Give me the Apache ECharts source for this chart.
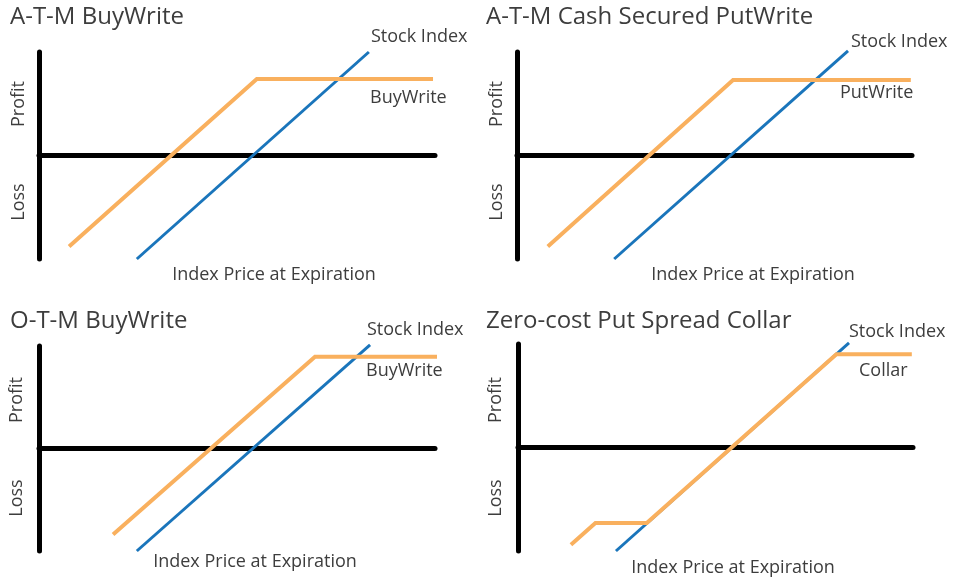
<!DOCTYPE html>
<html>
<head>
<meta charset="utf-8">
<script src="https://cdn.jsdelivr.net/npm/echarts@6/dist/echarts.min.js"></script>
<style>
  html, body { margin: 0; padding: 0; background: #fff; }
  #chart { width: 965px; height: 580px; }
</style>
</head>
<body>
<div id="chart"></div>
<script>
// panel titles
const titles = ['A-T-M BuyWrite', 'A-T-M Cash Secured PutWrite', 'O-T-M BuyWrite', 'Zero-cost Put Spread Collar'];
const strategyNames = ['BuyWrite', 'PutWrite', 'BuyWrite', 'Collar'];

// payoff diagrams: [index price, profit] (x 0..100, y -50..50)
const stockIndex1 = [[24.7, -50], [83.3, 50]];
const buyWriteAtm = [[7.6, -44], [55, 37], [99.5, 37]];
const stockIndex2 = [[24.6, -50], [83.8, 50.5]];
const putWriteAtm = [[7.8, -44], [54.7, 36.5], [99.7, 36.5]];
const stockIndex3 = [[24.7, -50], [83.6, 50.5]];
const buyWriteOtm = [[18.7, -42], [69.7, 44.7], [102.3, 44.7]];
const stockIndex4 = [[24.8, -50], [83.8, 50.5]];
const collar = [[13.4, -47], [19.6, -36.5], [32.6, -36.5], [80.6, 45], [99.7, 45]];

const stockSeries = [stockIndex1, stockIndex2, stockIndex3, stockIndex4];
const strategySeries = [buyWriteAtm, putWriteAtm, buyWriteOtm, collar];

const ORANGE = '#F9B05E';
const BLUE = '#1A75BB';
const TEXT = '#3d3d3d';
const FONT = 'Open Sans';
const LABEL_FONT = '18px "' + FONT + '"';

// grid boxes (pixel)
const grids = [
  { left: 39, top: 52, width: 396, height: 207 },
  { left: 517, top: 52, width: 395, height: 207 },
  { left: 39, top: 346, width: 396, height: 205 },
  { left: 518, top: 344, width: 395, height: 207 }
];

// label positions
const titlePos = [[10, 5], [486, 5], [10, 309], [486, 309]];
const stockLabelPos = [[371, 37], [851, 42], [367, 330], [849, 332]];
const stratLabelPos = [[370, 98], [840, 93], [366, 371], [859, 371]];
const xNamePos = [[274, 275], [753, 275], [255, 562], [733, 568]];
const profitPos = [[19, 104], [497, 104], [17, 400], [496, 400]];
const lossPos = [[19, 202], [497, 202], [17, 498], [496, 498]];

const myChart = echarts.init(document.getElementById('chart'), null, { renderer: 'canvas' });

const option = {
  animation: false,
  title: titles.map((t, i) => ({
    text: t,
    left: titlePos[i][0],
    top: titlePos[i][1],
    padding: 0,
    textStyle: { fontFamily: FONT, fontSize: 24, fontWeight: 'normal', color: TEXT }
  })),
  grid: grids,
  xAxis: grids.map((g, i) => ({
    type: 'value',
    gridIndex: i,
    min: 0,
    max: 100,
    axisLine: { show: true, onZero: true, lineStyle: { color: '#000', width: 5 } },
    axisTick: { show: false },
    axisLabel: { show: false },
    splitLine: { show: false }
  })),
  yAxis: grids.map((g, i) => ({
    type: 'value',
    gridIndex: i,
    min: -50,
    max: 50,
    axisLine: { show: true, onZero: false, lineStyle: { color: '#000', width: 5 } },
    axisTick: { show: false },
    axisLabel: { show: false },
    splitLine: { show: false }
  })),
  series: [
    ...stockSeries.map((d, i) => ({
      type: 'line',
      name: 'Stock Index',
      xAxisIndex: i,
      yAxisIndex: i,
      data: d,
      symbol: 'none',
      clip: false,
      z: 3,
      lineStyle: { color: BLUE, width: 3 }
    })),
    ...strategySeries.map((d, i) => ({
      type: 'line',
      name: strategyNames[i],
      xAxisIndex: i,
      yAxisIndex: i,
      data: d,
      symbol: 'none',
      clip: false,
      z: 4,
      lineStyle: { color: ORANGE, width: 4, join: 'miter' }
    }))
  ],
  graphic: [
    ...stockLabelPos.map(p => ({
      type: 'text', x: p[0], y: p[1],
      style: { text: 'Stock Index', fill: TEXT, font: LABEL_FONT, textVerticalAlign: 'middle' }
    })),
    ...stratLabelPos.map((p, i) => ({
      type: 'text', x: p[0], y: p[1],
      style: { text: strategyNames[i], fill: TEXT, font: LABEL_FONT, textVerticalAlign: 'middle' }
    })),
    ...xNamePos.map(p => ({
      type: 'text', x: p[0], y: p[1],
      style: { text: 'Index Price at Expiration', fill: TEXT, font: LABEL_FONT, textAlign: 'center', textVerticalAlign: 'middle' }
    })),
    ...profitPos.map(p => ({
      type: 'text', x: p[0], y: p[1], rotation: Math.PI / 2,
      style: { text: 'Profit', fill: TEXT, font: LABEL_FONT, textAlign: 'center', textVerticalAlign: 'middle' }
    })),
    ...lossPos.map(p => ({
      type: 'text', x: p[0], y: p[1], rotation: Math.PI / 2,
      style: { text: 'Loss', fill: TEXT, font: LABEL_FONT, textAlign: 'center', textVerticalAlign: 'middle' }
    }))
  ]
};

myChart.setOption(option);
</script>
</body>
</html>
